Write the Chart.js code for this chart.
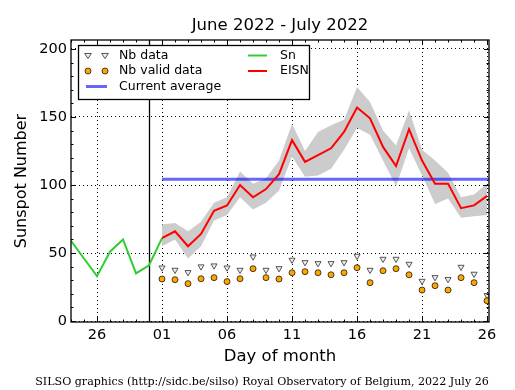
<!DOCTYPE html>
<html><head><meta charset="utf-8">
<script src="https://cdn.jsdelivr.net/npm/chart.js@4/dist/chart.umd.min.js"></script>
<style>html,body{margin:0;padding:0;background:#fff}canvas{display:block}</style>
</head><body>
<canvas id="c" width="515" height="390"></canvas>
<script>
// x value: days relative to July 1 (June 26 = -5, July 26 = 25)
const snDays = [-7, -6, -5, -4, -3, -2, -1, 0];
const snValues = [59, 46, 33, 51, 60, 35, 41, 61];
const julyDays = [0, 1, 2, 3, 4, 5, 6, 7, 8, 9, 10, 11, 12, 13, 14, 15, 16, 17, 18, 19, 20, 21, 22, 23, 24, 25];
const eisn = [61, 66, 55, 64, 81, 85, 100, 91, 97, 108, 133, 117, 122, 127, 139, 157, 149, 128, 114, 141, 118, 101, 101, 83, 85, 92];
const eisnUpper = [71, 72, 66, 73, 87, 91, 110, 101, 105, 118, 145, 125, 139, 144, 148, 172, 161, 140, 129, 155, 126, 118, 109, 91, 93, 101];
const eisnLower = [55, 60, 46, 55, 74, 78, 91, 82, 87, 96, 121, 106, 107, 112, 126, 142, 137, 118, 99, 127, 107, 86, 90, 76, 77, 78];
const nbData = [39.2, 37.5, 35.8, 40, 40.7, 39.2, 37.5, 47.3, 37.5, 38.7, 44.9, 43.1, 42.4, 42.4, 43.1, 47.8, 37.5, 45.6, 45.6, 41.9, 29.4, 32.1, 30.7, 39.7, 34.6, 18.9];
const nbValid = [30.9, 30.4, 27.5, 31.1, 31.9, 29, 31.1, 38.5, 31.9, 30.9, 35.5, 36.3, 35.5, 34, 35.5, 39.2, 28.2, 37, 38.5, 34, 22.8, 26, 22.8, 31.9, 28.2, 14.9];
const currentAverage = 104.2;
const monthBoundary = -1;
const xTickValues = [-5, 0, 5, 10, 15, 20, 25];
const xTickLabels = ['26', '01', '06', '11', '16', '21', '26'];
const yTickValues = [0, 50, 100, 150, 200];
const xMin = -7, xMax = 25.15, yMin = -0.7, yMax = 206.6;

const pts = (xs, ys) => xs.map((x, i) => ({x: x, y: ys[i]}));
const FONT = 'DejaVu Sans';

const decor = {
  id: 'decor',
  beforeDatasetsDraw(chart) {
    const ctx = chart.ctx, a = chart.chartArea, xs = chart.scales.x;
    const px = Math.round(xs.getPixelForValue(monthBoundary)) + 0.5;
    ctx.save();
    ctx.strokeStyle = '#000'; ctx.lineWidth = 1.3;
    ctx.beginPath(); ctx.moveTo(px, a.top); ctx.lineTo(px, a.bottom); ctx.stroke();
    ctx.restore();
  },
  afterDraw(chart) {
    const ctx = chart.ctx, a = chart.chartArea, xs = chart.scales.x, ys = chart.scales.y;
    ctx.save();
    ctx.strokeStyle = '#000'; ctx.lineWidth = 1.3;
    ctx.strokeRect(a.left, a.top, a.right - a.left, a.bottom - a.top);
    ctx.lineWidth = 1;
    ctx.beginPath();
    for (let d = -7; d <= 25; d++) {
      const p = Math.round(xs.getPixelForValue(d)) + 0.5;
      const L = (xTickValues.includes(d)) ? 5 : 2.5;
      ctx.moveTo(p, a.bottom); ctx.lineTo(p, a.bottom - L);
      ctx.moveTo(p, a.top); ctx.lineTo(p, a.top + L);
    }
    for (let v = 0; v <= 200; v += 10) {
      const p = Math.round(ys.getPixelForValue(v)) + 0.5;
      const L = (v % 50 === 0) ? 5 : 2.5;
      ctx.moveTo(a.left, p); ctx.lineTo(a.left + L, p);
      ctx.moveTo(a.right, p); ctx.lineTo(a.right - L, p);
    }
    ctx.stroke();

    ctx.fillStyle = '#000';
    ctx.font = '16.5px "' + FONT + '"';
    ctx.textAlign = 'center'; ctx.textBaseline = 'middle';
    ctx.fillText('June 2022 - July 2022', (a.left + a.right) / 2, 26);
    ctx.font = '11.1px "DejaVu Serif"';
    ctx.fillText('SILSO graphics (http://sidc.be/silso) Royal Observatory of Belgium, 2022 July 26', 262, 382);

    const bx = 78.5, by = 45.5, bw = 231, bh = 54;
    ctx.fillStyle = '#fff'; ctx.fillRect(bx, by, bw, bh);
    ctx.strokeStyle = '#000'; ctx.lineWidth = 1.3; ctx.strokeRect(bx, by, bw, bh);
    const rows = [55.5, 71, 86.5];
    const tri = (x, y) => {
      const r = 3.4;
      ctx.beginPath();
      ctx.moveTo(x - r, y - r * 0.6); ctx.lineTo(x + r, y - r * 0.6); ctx.lineTo(x, y + r * 0.9); ctx.closePath();
      ctx.fillStyle = '#eee'; ctx.fill(); ctx.strokeStyle = '#555'; ctx.lineWidth = 1; ctx.stroke();
    };
    const circ = (x, y) => {
      ctx.beginPath(); ctx.arc(x, y, 3, 0, Math.PI * 2);
      ctx.fillStyle = '#ffa500'; ctx.fill(); ctx.strokeStyle = '#000'; ctx.lineWidth = 0.7; ctx.stroke();
    };
    tri(88, rows[0]); tri(105, rows[0]);
    circ(88, rows[1]); circ(105, rows[1]);
    ctx.lineWidth = 3; ctx.strokeStyle = 'rgba(0,0,255,0.6)';
    ctx.beginPath(); ctx.moveTo(86, rows[2]); ctx.lineTo(107, rows[2]); ctx.stroke();
    ctx.lineWidth = 2; ctx.strokeStyle = '#32cd32';
    ctx.beginPath(); ctx.moveTo(248, rows[0]); ctx.lineTo(267, rows[0]); ctx.stroke();
    ctx.strokeStyle = '#ff0000';
    ctx.beginPath(); ctx.moveTo(248, rows[1]); ctx.lineTo(267, rows[1]); ctx.stroke();
    ctx.fillStyle = '#000';
    ctx.font = '12.5px "' + FONT + '"';
    ctx.textAlign = 'left'; ctx.textBaseline = 'middle';
    ctx.fillText('Nb data', 119, rows[0]);
    ctx.fillText('Nb valid data', 119, rows[1]);
    ctx.fillText('Current average', 119, rows[2]);
    ctx.fillText('Sn', 280, rows[0]);
    ctx.fillText('EISN', 280, rows[1]);
    ctx.restore();
  }
};

new Chart(document.getElementById('c'), {
  type: 'line',
  data: {
    datasets: [
      { label: 'upper', data: pts(julyDays, eisnUpper), borderWidth: 0, pointRadius: 0, fill: '+1',
        backgroundColor: '#cccccc', borderColor: 'rgba(0,0,0,0)', order: 10 },
      { label: 'lower', data: pts(julyDays, eisnLower), borderWidth: 0, pointRadius: 0, fill: false,
        borderColor: 'rgba(0,0,0,0)', order: 9 },
      { label: 'Current average', data: [{x: 0, y: currentAverage}, {x: xMax, y: currentAverage}],
        borderColor: 'rgba(0,0,255,0.6)', borderWidth: 3, pointRadius: 0, fill: false, order: 8 },
      { label: 'Sn', data: pts(snDays, snValues), borderColor: '#32cd32', borderWidth: 2, pointRadius: 0, fill: false, order: 7 },
      { label: 'EISN', data: pts(julyDays, eisn), borderColor: '#ff0000', borderWidth: 2, pointRadius: 0, fill: false, order: 6 },
      { label: 'Nb data', data: pts(julyDays, nbData), showLine: false, pointStyle: 'triangle', rotation: 180,
        pointRadius: 3.5, backgroundColor: '#eeeeee', borderColor: '#555555', borderWidth: 1, order: 5 },
      { label: 'Nb valid data', data: pts(julyDays, nbValid), showLine: false, pointStyle: 'circle',
        pointRadius: 3, backgroundColor: '#ffa500', borderColor: '#000000', borderWidth: 0.7, order: 4 }
    ]
  },
  options: {
    responsive: false, animation: false, devicePixelRatio: 1,
    layout: { padding: { left: 0, right: 26, top: 40, bottom: 0 } },
    plugins: { legend: { display: false }, tooltip: { enabled: false }, title: { display: false } },
    elements: { line: { tension: 0 } },
    scales: {
      x: {
        type: 'linear', min: xMin, max: xMax,
        afterFit: s => { s.height = 68; },
        afterBuildTicks: s => { s.ticks = xTickValues.map(v => ({value: v})); },
        ticks: { color: '#000', font: { family: FONT, size: 14.5 }, padding: 5, maxRotation: 0, autoSkip: false,
          callback: (v) => xTickLabels[xTickValues.indexOf(v)] },
        grid: { color: '#000', lineWidth: 1, drawTicks: false },
        border: { display: false, dash: [1, 3] },
        title: { display: true, text: 'Day of month', color: '#000', font: { family: FONT, size: 16.5 }, padding: { top: 0, bottom: 23 } }
      },
      y: {
        min: yMin, max: yMax,
        afterFit: s => { s.width = 71; },
        afterBuildTicks: s => { s.ticks = yTickValues.map(v => ({value: v})); },
        ticks: { color: '#000', font: { family: FONT, size: 14.5 }, padding: 4 },
        grid: { color: '#000', lineWidth: 1, drawTicks: false },
        border: { display: false, dash: [1, 3] },
        title: { display: true, text: 'Sunspot Number', color: '#000', font: { family: FONT, size: 16 }, padding: { top: 12, bottom: 0 } }
      }
    }
  },
  plugins: [decor]
});
</script>
</body></html>
